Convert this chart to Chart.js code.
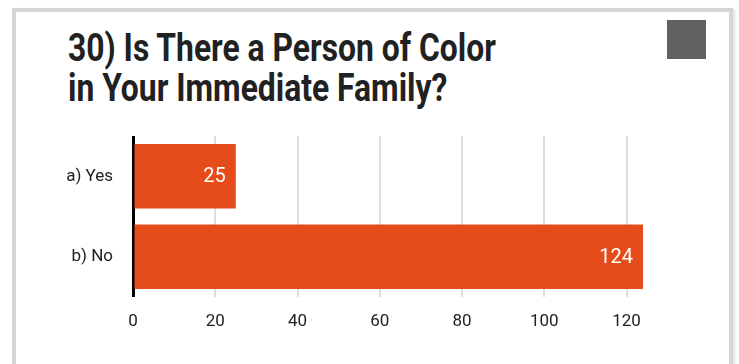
<!DOCTYPE html>
<html>
<head>
<meta charset="utf-8">
<script src="https://cdn.jsdelivr.net/npm/chart.js@4.4.1/dist/chart.umd.min.js"></script>
<style>
  html, body { margin: 0; padding: 0; background: #fff; overflow: hidden; }
  #card { position: absolute; left: 12px; top: 8px; width: 713px; height: 400px; border: 4px solid #d5d5d5; background: #fff; box-shadow: 2px 1px 2px rgba(0,0,0,0.12); }
  #title { position: absolute; left: 68px; top: 28px; font: bold 38px Roboto; line-height: 40px; color: #212121; transform-origin: 0 0; white-space: nowrap; }
  #title span { display: inline-block; }
  #menu { position: absolute; left: 667px; top: 20px; width: 39px; height: 39px; background: #616161; }
  #chart { position: absolute; left: 0; top: 0; }
</style>
</head>
<body>
<div id="card"></div>
<div id="title"><span id="line1">30) Is There a Person of Color</span><br><span>in Your Immediate Family?</span></div>
<div id="menu"></div>
<canvas id="chart" width="739" height="364"></canvas>
<script>
// --- Data ---
const categories = ['a) Yes', 'b) No'];
const counts = [25, 124];
const xTicks = [0, 20, 40, 60, 80, 100, 120];
const xMax = 124;

// --- Value labels inside bar ends ---
const barLabels = {
    id: 'barLabels',
    afterDatasetsDraw(chart) {
        const ctx = chart.ctx;
        const meta = chart.getDatasetMeta(0);
        ctx.save();
        ctx.font = '20px Roboto';
        ctx.fillStyle = '#ffffff';
        ctx.textAlign = 'right';
        ctx.textBaseline = 'middle';
        meta.data.forEach((bar, i) => {
            ctx.fillText(String(counts[i]), bar.x - 10, bar.y + 1);
        });
        ctx.restore();
    }
};

function createChart() {
    const ctx = document.getElementById('chart').getContext('2d');
    new Chart(ctx, {
        type: 'bar',
        data: {
            labels: categories,
            datasets: [{
                data: counts,
                backgroundColor: '#e64c1a',
                borderWidth: 0,
                barPercentage: 0.8,
                categoryPercentage: 1
            }]
        },
        options: {
            indexAxis: 'y',
            responsive: false,
            animation: false,
            devicePixelRatio: 1,
            layout: { padding: { left: 0, top: 136, right: 96, bottom: 0 } },
            scales: {
                x: {
                    min: 0,
                    max: xMax,
                    afterBuildTicks: scale => { scale.ticks = xTicks.map(v => ({ value: v })); },
                    afterFit: scale => { scale.height = 67; },
                    border: { display: false },
                    grid: {
                        drawTicks: false,
                        color: c => c.tick && c.tick.value === 0 ? '#000000' : '#dddddd',
                        lineWidth: c => c.tick && c.tick.value === 0 ? 3 : 2
                    },
                    ticks: { color: '#222222', font: { family: 'Roboto', size: 17 }, padding: 15 }
                },
                y: {
                    afterFit: scale => { scale.width = 133; },
                    border: { display: false },
                    grid: { display: false, drawTicks: false },
                    ticks: { color: '#222222', font: { family: 'Roboto', size: 17 }, padding: 20 }
                }
            },
            plugins: { legend: { display: false }, tooltip: { enabled: false } }
        },
        plugins: [barLabels]
    });
}

document.addEventListener('DOMContentLoaded', async () => {
    try { await document.fonts.load('bold 38px Roboto'); await document.fonts.load('17px Roboto'); } catch (e) {}
    const title = document.getElementById('title');
    const w = document.getElementById('line1').offsetWidth;
    title.style.transform = `scaleX(${428 / w})`;
    createChart();
});
</script>
</body>
</html>
